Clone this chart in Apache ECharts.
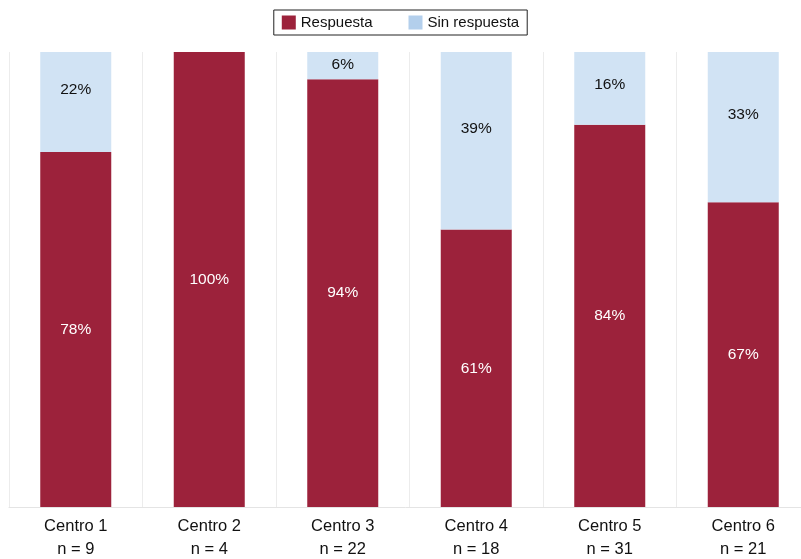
<!DOCTYPE html>
<html>
<head>
<meta charset="utf-8">
<script src="https://cdn.jsdelivr.net/npm/echarts@6/dist/echarts.min.js"></script>
<style>
  html, body { margin: 0; padding: 0; background: #fff; }
  #chart { width: 801px; height: 559px; }
</style>
</head>
<body>
<div id="chart"></div>
<script>
// datos
var categories = ['Centro 1', 'Centro 2', 'Centro 3', 'Centro 4', 'Centro 5', 'Centro 6']
var nValues = [9, 4, 22, 18, 31, 21]
var respuesta = [78, 100, 94, 61, 84, 67]
var sinRespuesta = [22, 0, 6, 39, 16, 33]

var labels = categories.map(function (c, i) {
  return c + '\nn = ' + nValues[i]
})

// etiquetas de la parte azul un poco subidas en las barras altas
var sinRespuestaData = sinRespuesta.map(function (v) {
  var dy = v >= 20 ? -12 : (v >= 10 ? -4 : -1)
  return { value: v, label: { offset: [0, dy] } }
})

var myChart = echarts.init(document.getElementById('chart'))

var option = {
  animation: false,
  textStyle: { fontFamily: 'Liberation Sans, Arial, sans-serif' },
  legend: {
    top: 10,
    left: 'center',
    itemWidth: 14,
    itemHeight: 14,
    itemGap: 36,
    padding: [5, 8, 5, 8],
    borderColor: '#222',
    borderWidth: 1,
    icon: 'rect',
    textStyle: { fontSize: 15, color: '#111' },
    data: [
      { name: 'Respuesta', itemStyle: { color: '#9c223b' } },
      { name: 'Sin respuesta', itemStyle: { color: '#b3cfec' } }
    ]
  },
  grid: { left: 9, right: -9, top: 52, bottom: 52, outerBoundsMode: 'none' },
  xAxis: {
    type: 'category',
    data: labels,
    axisLine: { lineStyle: { color: '#e4e4e4' } },
    axisTick: { show: false },
    splitLine: { show: true, lineStyle: { color: '#ececec' } },
    axisLabel: { fontSize: 16.5, color: '#111', lineHeight: 23, margin: 8, interval: 0 }
  },
  yAxis: {
    type: 'value',
    min: 0,
    max: 100,
    show: false,
    splitLine: { show: false }
  },
  series: [
    {
      name: 'Respuesta',
      type: 'bar',
      stack: 'total',
      barWidth: 71,
      data: respuesta,
      itemStyle: { color: '#9c223b' },
      label: {
        show: true,
        position: 'inside',
        color: '#fff',
        fontSize: 15.5,
        formatter: '{c}%'
      }
    },
    {
      name: 'Sin respuesta',
      type: 'bar',
      stack: 'total',
      barWidth: 71,
      data: sinRespuestaData,
      itemStyle: { color: '#d1e3f4' },
      label: {
        show: true,
        position: 'inside',
        color: '#111',
        fontSize: 15.5,
        formatter: function (p) { return p.value > 0 ? p.value + '%' : '' }
      }
    }
  ]
}

myChart.setOption(option)
</script>
</body>
</html>
